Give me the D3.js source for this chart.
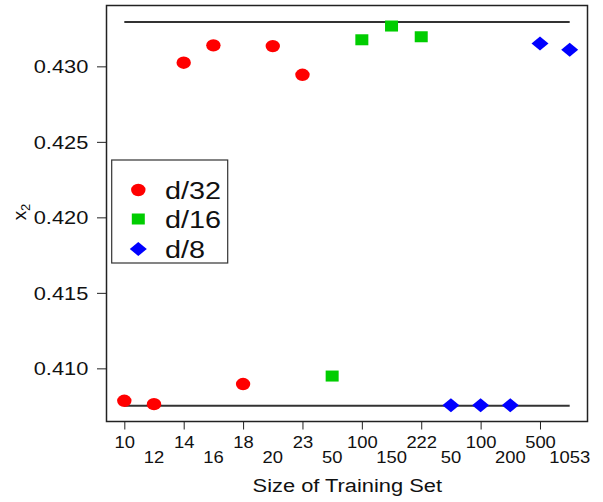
<!DOCTYPE html>
<html><head><meta charset="utf-8">
<script src="https://cdn.jsdelivr.net/npm/d3@7"></script>
<style>body{margin:0;background:#fff}svg{display:block;font-family:"Liberation Sans",Arial,sans-serif}</style>
</head><body>
<svg id="chart" width="603" height="502"></svg>
<script>
const categories = ["10","12","14","16","18","20","23","50","100","150","222","50","100","200","500","1053"];
const seriesNames = ["d/32","d/16","d/8"];
const seriesColors = ["#FF0000","#00CD00","#0000FF"];
const d32 = [0.40785,0.40763,0.43024,0.43139,0.40896,0.43134,0.42944];
const d16 = [0.40949,0.43176,0.43267,0.43196];
const d8 = [0.40755,0.40755,0.40755,0.43152,0.43110];
const refLines = [0.43293,0.40752];
const yTicks = [0.410,0.415,0.420,0.425,0.430];
const xLabel = "Size of Training Set";

const svg = d3.select("#chart");
const L=106.5,R=587.5,T=5.5,B=421.5;
const x = d3.scaleLinear().domain([0.4,16.6]).range([L,R]);
const y = d3.scaleLinear().domain([0.40648,0.43403]).range([B,T]);

function stext(g,tx,ty,str,size,anchor,sx){
  return g.append("text").attr("transform",`translate(${tx},${ty}) scale(${sx},1)`)
    .attr("text-anchor",anchor).attr("font-size",size).attr("fill","#111").text(str);
}

// reference lines
svg.selectAll("line.ref").data(refLines).enter().append("line")
  .attr("x1",x(1)).attr("x2",x(categories.length))
  .attr("y1",d=>y(d)).attr("y2",d=>y(d))
  .attr("stroke","#333").attr("stroke-width",2);

// points
const pts=[];
let idx=1;
[d32,d16,d8].forEach((arr,s)=>{arr.forEach(v=>{pts.push({i:idx++,v:v,s:s});});});

function drawSym(g,s,cx,cy){
  const c=seriesColors[s];
  if(s===0) g.append("ellipse").attr("cx",cx).attr("cy",cy).attr("rx",7.2).attr("ry",6.2).attr("fill",c);
  else if(s===1) g.append("rect").attr("x",cx-6.5).attr("y",cy-5.5).attr("width",13).attr("height",11).attr("fill",c);
  else g.append("path").attr("d",`M${cx-8.5},${cy}L${cx},${cy-7}L${cx+8.5},${cy}L${cx},${cy+7}Z`).attr("fill",c);
}
const pg=svg.append("g");
pts.forEach(p=>drawSym(pg,p.s,x(p.i),y(p.v)));

// box
svg.append("rect").attr("x",L).attr("y",T).attr("width",R-L).attr("height",B-T)
  .attr("fill","none").attr("stroke","#222").attr("stroke-width",1.5);

// y axis
const ya = svg.append("g").attr("transform",`translate(${L},0)`)
  .call(d3.axisLeft(y).tickValues(yTicks).tickSize(9.5).tickFormat(d3.format(".3f")));
ya.select(".domain").remove();
ya.selectAll(".tick line").attr("stroke","#222");
ya.selectAll(".tick text").attr("font-size",18.5).attr("fill","#111")
  .attr("font-family","Liberation Sans, Arial, sans-serif")
  .attr("x",0).attr("dy",0).attr("y",0)
  .attr("transform","translate(-18.2,6.5) scale(1.18,1)");

// x axis (ticks at odd positions)
const oddPos = d3.range(1,categories.length+1,2);
const evenPos = d3.range(2,categories.length+1,2);
const xa = svg.append("g").attr("transform",`translate(0,${B})`)
  .call(d3.axisBottom(x).tickValues(oddPos).tickSize(8).tickFormat(d=>categories[d-1]));
xa.select(".domain").remove();
xa.selectAll(".tick line").attr("stroke","#222");
xa.selectAll(".tick text").attr("font-size",16).attr("fill","#111")
  .attr("font-family","Liberation Sans, Arial, sans-serif")
  .attr("y",0).attr("dy",0)
  .attr("transform",`translate(0,${447.7-B}) scale(1.15,1)`);
const xb = svg.append("g");
evenPos.forEach(p=>{ stext(xb,x(p),463.3,categories[p-1],16,"middle",1.15); });

// x label
stext(svg,347.3,492.3,xLabel,19,"middle",1.15);

// y label x_2
const yl = svg.append("text").attr("transform","translate(25.5,212) rotate(-90)")
  .attr("text-anchor","middle").attr("font-size",19).attr("fill","#111");
yl.append("tspan").text("x");
yl.append("tspan").attr("font-size",13).attr("dy",4).text("2");

// legend
const lg = svg.append("g");
lg.append("rect").attr("x",111.7).attr("y",160).attr("width",116).attr("height",103)
  .attr("fill","#fff").attr("stroke","#333").attr("stroke-width",1.2);
const ly=[190,219,249];
seriesNames.forEach((n,i)=>{
  drawSym(lg,i,138.3,ly[i]);
  stext(lg,165,ly[i]+8.5,n,24,"start",1.2);
});
</script>
</body></html>
